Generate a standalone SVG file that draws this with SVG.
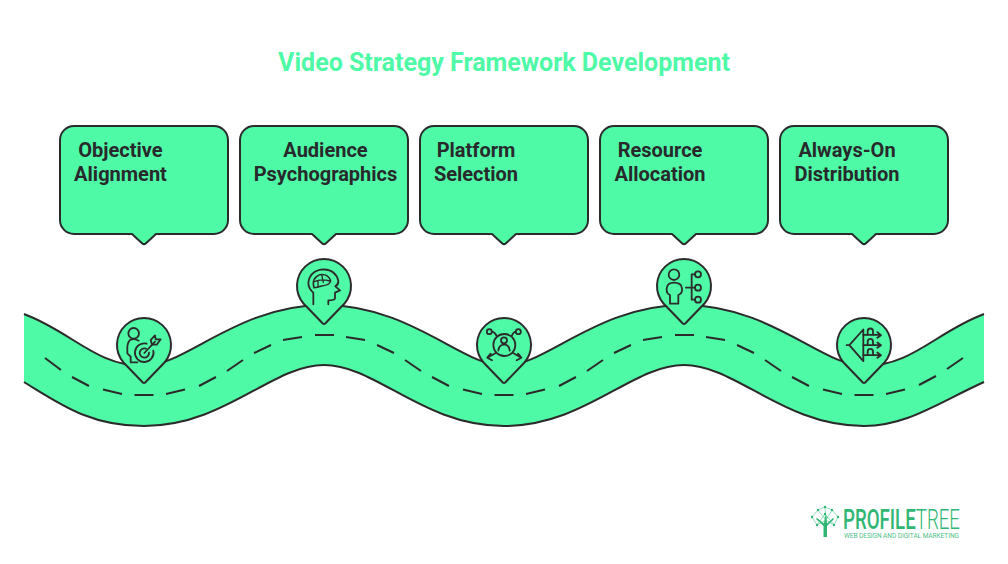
<svg xmlns="http://www.w3.org/2000/svg" width="1008" height="564" viewBox="0 0 1008 564">
<style>
.t{font-family:Roboto,"Liberation Sans",sans-serif;font-weight:700}
.lbl{font-size:20px;fill:#27292c;text-anchor:middle}
.box,.pin{fill:#4ffaa7;stroke:#2b2b2b;stroke-width:2;stroke-linejoin:round}
.fill{fill:#4ffaa7}
.edge{fill:none;stroke:#2b2b2b;stroke-width:2}
.dash{fill:none;stroke:#2b2b2b;stroke-width:2}
.ic{fill:none;stroke:#2b2b2b;stroke-width:5.4;stroke-linejoin:round;stroke-linecap:round}
.lg{fill:#2fb673;font-family:Roboto,"Liberation Sans",sans-serif}
.ll{stroke:#4cc78a;stroke-width:.6;fill:none}
</style>
<defs>
<path id="callout" class="box" d="M74 126H214A14 14 0 0 1 228 140V220A14 14 0 0 1 214 234H156L146 243.200Q144 245 142 243.200L132 234H74A14 14 0 0 1 60 220V140A14 14 0 0 1 74 126Z"/>
<path id="pinshape" class="pin" d="M1.200 38 Q0 39 -1.200 38 L-20.500 18 A27 27 0 1 1 20.500 18 Z"/>
<path id="wave" d="M134.500 395H153.500M166 394L185 389.500M199 386L216 377M227 371L243 360M254 353L271 345M283 340L302 337M315 335H334M346 337L365 340M377 345L394 353M405 360L421 371M432 377L449 386M463 389.500L482 394"/>
</defs>
<text class="t" x="504" y="71" font-size="25" fill="#4ffaa7" text-anchor="middle">Video Strategy Framework Development</text>
<g id="connectors">
<path class="fill" d="M24 314C72 332 96 366 144 366C185 366 238 305 324 305C410 305 463 366 504 366C545 366 598 305 684 305C770 305 823 366 864 366C912 366 936 332 984 314V382C936 404 906 426 864 426C783 426 736 365 684 365C632 365 585 426 504 426C423 426 376 365 324 365C272 365 225 426 144 426C90 426 60 404 24 382Z"/>
<path class="edge" d="M24 314C72 332 96 366 144 366C185 366 238 305 324 305C410 305 463 366 504 366C545 366 598 305 684 305C770 305 823 366 864 366C912 366 936 332 984 314"/>
<path class="edge" d="M24 382C60 404 90 426 144 426C225 426 272 365 324 365C376 365 423 426 504 426C585 426 632 365 684 365C736 365 783 426 864 426C906 426 936 404 984 382"/>
<path class="dash" d="M45 358L61 370M72 377L89 386M103 389.500L122 394"/>
<use href="#wave" class="dash"/>
<use href="#wave" class="dash" x="360"/>
<path class="dash" d="M854.500 395H873.500M886 394L905 389.500M919 385L936 376M947 369L963 358"/>
</g>
<g id="node-objective">
<use href="#callout"/>
<text class="t lbl" x="120.500" y="157">Objective</text>
<text class="t lbl" x="120.500" y="181">Alignment</text>
<use href="#pinshape" x="144" y="344.500"/>
<g transform="translate(144 344.500) scale(.3333) translate(-132 -283.500)" class="ic">
<circle cx="101" cy="250" r="16"/>
<path d="M116 272Q105 266 95 268Q84 270 82 290V310L92 320V337H112"/>
<path d="M140 281A28 28 0 1 0 160 302"/>
<path d="M138 296A14 14 0 1 0 147 308"/>
<path d="M133 309L165 275"/>
<path d="M152 270L165 256L167 268L182 268L170 284L156 284Z"/>
</g>
</g>
<g id="node-audience" transform="translate(180 0)">
<use href="#callout"/>
<text class="t lbl" x="145.500" y="157">Audience</text>
<text class="t lbl" x="145.500" y="181">Psychographics</text>
</g>
<g id="pin-audience">
<use href="#pinshape" x="324" y="285.500"/>
<g transform="translate(324 285.500) scale(.3333) translate(-672 -103.500)" class="ic">
<path d="M640 160V125Q625 112 625 95Q630 57 672 55Q708 57 715 90Q716 100 706 106L720 118L705 125V142Q704 148 685 148V160"/>
<path d="M642 110Q633 82 660 71Q685 68 692 90Q690 102 665 105Q650 110 642 110Z" stroke-width="4.500"/>
<path d="M643 92Q662 82 690 90M665 71L670 94M654 88V107" stroke-width="4"/>
</g>
</g>
<g id="node-platform" transform="translate(360 0)">
<use href="#callout"/>
<text class="t lbl" x="116" y="157">Platform</text>
<text class="t lbl" x="116" y="181">Selection</text>
</g>
<g id="pin-platform">
<use href="#pinshape" x="504" y="344.500"/>
<g transform="translate(504 344.500) scale(.3333) translate(-132 -283.500)" class="ic">
<circle cx="133" cy="285" r="33"/>
<circle cx="132" cy="271" r="9"/>
<path d="M115 302Q117 284 132 284Q148 284 149 302"/>
<circle cx="88" cy="245" r="7.500"/>
<circle cx="175" cy="245" r="7.500"/>
<path d="M96 245Q104 246 110 258M167 245Q160 246 155 258"/>
<path d="M107 309L82 323M92 311L82 323L96 331M159 309L184 323M174 311L184 323L170 331"/>
</g>
</g>
<g id="node-resource" transform="translate(540 0)">
<use href="#callout"/>
<text class="t lbl" x="120" y="157">Resource</text>
<text class="t lbl" x="120" y="181">Allocation</text>
</g>
<g id="pin-resource">
<use href="#pinshape" x="684" y="285.500"/>
<g transform="translate(684 285.500) scale(.3333) translate(-672 -103.500)" class="ic">
<circle cx="642" cy="71" r="16"/>
<path d="M630 158V132Q620 128 620 118V112Q622 95 642 95Q664 95 666 112V118Q666 128 655 132V158Z"/>
<path d="M678 110H705M695 70V146M695 70H705M695 146H705"/>
<circle cx="714" cy="70" r="9"/>
<circle cx="714" cy="110" r="9"/>
<circle cx="714" cy="146" r="9"/>
</g>
</g>
<g id="node-always-on" transform="translate(720 0)">
<use href="#callout"/>
<text class="t lbl" x="127" y="157">Always-On</text>
<text class="t lbl" x="127" y="181">Distribution</text>
</g>
<g id="pin-always-on">
<use href="#pinshape" x="864" y="344.500"/>
<g transform="translate(864 344.500) scale(.3333) translate(-192 -102)" class="ic">
<path d="M190 57L148 104L190 152ZM140 104H148"/>
<path d="M190 73H242M232 65L243 74L232 82M190 104H242M232 96L243 104L232 112M190 134H242M232 126L243 134L232 142"/>
<path d="M203 72V62A8 8 0 1 1 219 62V72M203 102V93A8 8 0 1 1 219 93V102M203 132V123A8 8 0 1 1 219 123V132"/>
</g>
</g>
<g id="logo">
<path class="lg" d="M823.500 537V526L816 519L817 518L824 523.500L825 516H826.500L827 523.500L833 518L834 519L827 526V537Z"/>
<path class="ll" d="M812 517L818 510L825 507L832 510L838 517L834 525L826 520L817 525L812 517M818 510L826 520L832 510M825 507L826 520M817 525L825 514L834 525"/>
<g class="lg">
<circle cx="812" cy="517" r="1.200"/><circle cx="818" cy="510" r="1.200"/><circle cx="825" cy="507" r="1.200"/><circle cx="832" cy="510" r="1.200"/><circle cx="838" cy="517" r="1.200"/><circle cx="834" cy="525" r="1.200"/><circle cx="817" cy="525" r="1.200"/><circle cx="825" cy="514" r="1.200"/>
</g>
<text x="843" y="529" font-size="28" class="lg" font-weight="500" textLength="117" lengthAdjust="spacingAndGlyphs">PROFILE<tspan font-weight="300">TREE</tspan></text>
<text x="844" y="538" font-size="6.500" class="lg" font-weight="400" opacity=".85" textLength="115" lengthAdjust="spacing">WEB DESIGN AND DIGITAL MARKETING</text>
</g>
</svg>
